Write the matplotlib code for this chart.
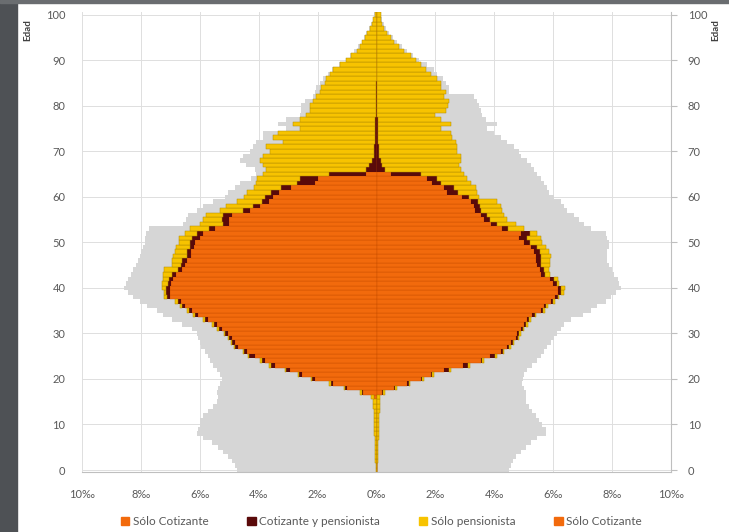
import matplotlib
matplotlib.use('Agg')
import matplotlib.pyplot as plt
from matplotlib.patches import Rectangle, Patch

plt.rcParams['font.family'] = ['Lato', 'DejaVu Sans']

# edad 0..100, valores en tanto por mil
ages = list(range(101))

# lado izquierdo
left_total = [4.75, 4.81, 4.92, 5.03, 5.2, 5.37, 5.6, 5.89, 6.1, 6.06,
              6.0, 6.0, 5.89, 5.72, 5.55, 5.43, 5.37, 5.43, 5.37, 5.32,
              5.26, 5.32, 5.43, 5.55, 5.66, 5.72, 5.83, 5.95, 6.0, 6.06,
              6.1, 6.28, 6.6, 6.95, 7.24, 7.46, 7.8, 8.04, 8.27, 8.44,
              8.58, 8.52, 8.44, 8.35, 8.27, 8.16, 8.1, 8.04, 8.0, 7.93,
              7.87, 7.87, 7.82, 7.73, 6.57, 6.46, 6.4, 6.1, 5.89, 5.55,
              5.15, 5.04, 4.81, 4.64, 4.25, 4.08, 4.13, 4.42, 4.64, 4.53,
              4.3, 4.19, 4.08, 3.85, 3.85, 3.06, 3.34, 3.06, 2.6, 2.55,
              2.55, 2.43, 2.15, 2.1, 2.04, 1.93, 1.82, 1.65, 1.5, 1.28,
              1.05, 0.9, 0.75, 0.62, 0.5, 0.42, 0.35, 0.25, 0.18, 0.12,
              0.08]
left_cot = [0, 0, 0, 0, 0, 0, 0, 0, 0, 0,
            0, 0, 0, 0, 0, 0, 0.1, 0.45, 1.01, 1.47,
            2.09, 2.54, 2.94, 3.45, 3.79, 4.13, 4.41, 4.7, 4.81, 4.92,
            5.03, 5.26, 5.43, 5.72, 6.06, 6.28, 6.5, 6.63, 7.0, 7.02,
            7.02, 6.97, 6.9, 6.8, 6.6, 6.5, 6.45, 6.3, 6.3, 6.2,
            6.15, 6.0, 5.9, 5.5, 5.0, 5.0, 4.9, 4.3, 3.95, 3.65,
            3.5, 3.3, 2.9, 2.1, 2.0, 0.35, 0, 0, 0, 0,
            0, 0, 0, 0, 0, 0, 0, 0, 0, 0,
            0, 0, 0, 0, 0, 0, 0, 0, 0, 0,
            0, 0, 0, 0, 0, 0, 0, 0, 0, 0,
            0]
left_both = [0, 0, 0, 0, 0, 0, 0, 0, 0, 0,
             0, 0, 0, 0, 0, 0, 0, 0.05, 0.06, 0.08,
             0.1, 0.08, 0.12, 0.15, 0.1, 0.2, 0.1, 0.1, 0.1, 0.1,
             0.1, 0.1, 0.1, 0.1, 0.1, 0.1, 0.1, 0.12, 0.12, 0.12,
             0.12, 0.12, 0.15, 0.15, 0.15, 0.15, 0.15, 0.15, 0.15, 0.15,
             0.2, 0.25, 0.2, 0.2, 0.2, 0.25, 0.3, 0.25, 0.25, 0.25,
             0.3, 0.3, 0.35, 0.6, 0.6, 1.25, 0.35, 0.25, 0.15, 0.1,
             0.08, 0.07, 0.06, 0.05, 0.05, 0.04, 0.04, 0.04, 0.03, 0.03,
             0.03, 0.03, 0.02, 0.02, 0.02, 0.01, 0, 0, 0, 0,
             0, 0, 0, 0, 0, 0, 0, 0, 0, 0,
             0]
left_pens = [0.03, 0.03, 0.04, 0.04, 0.05, 0.05, 0.06, 0.06, 0.07, 0.08,
             0.08, 0.09, 0.1, 0.1, 0.12, 0.12, 0.1, 0.05, 0.05, 0.05,
             0.05, 0.05, 0.04, 0.05, 0.06, 0.05, 0.04, 0.05, 0.04, 0.04,
             0.05, 0.04, 0.05, 0.06, 0.06, 0.06, 0.07, 0.1, 0.08, 0.08,
             0.16, 0.21, 0.2, 0.3, 0.45, 0.3, 0.35, 0.45, 0.4, 0.45,
             0.35, 0.45, 0.4, 0.65, 0.8, 0.65, 0.6, 0.75, 0.9, 0.85,
             0.7, 0.8, 0.9, 1.4, 1.45, 2.25, 3.39, 3.6, 3.81, 3.75,
             3.54, 3.67, 3.11, 3.46, 3.29, 2.56, 2.79, 2.56, 2.35, 2.24,
             2.24, 2.12, 2.02, 1.91, 1.85, 1.75, 1.7, 1.58, 1.47, 1.25,
             1.02, 0.85, 0.68, 0.56, 0.48, 0.4, 0.34, 0.23, 0.17, 0.11,
             0.06]

# lado derecho
right_total = [4.5, 4.56, 4.62, 4.73, 4.9, 5.07, 5.24, 5.46, 5.75, 5.75,
               5.63, 5.52, 5.41, 5.29, 5.18, 5.07, 5.07, 5.07, 5.01, 4.95,
               4.99, 5.01, 5.12, 5.29, 5.46, 5.58, 5.69, 5.8, 5.92, 6.03,
               6.14, 6.26, 6.37, 6.6, 7.0, 7.28, 7.5, 7.79, 7.96, 8.13,
               8.3, 8.24, 8.19, 8.07, 8.0, 7.9, 7.84, 7.84, 7.84, 7.9,
               7.9, 7.84, 7.79, 7.28, 7.05, 6.88, 6.71, 6.48, 6.37, 6.26,
               6.03, 5.86, 5.8, 5.69, 5.58, 5.46, 5.35, 5.24, 5.12, 4.9,
               4.84, 4.67, 4.44, 4.22, 3.99, 3.76, 4.1, 3.71, 3.59, 3.54,
               3.48, 3.42, 3.31, 2.47, 2.47, 2.35, 2.24, 2.06, 1.95, 1.72,
               1.44, 1.25, 1.05, 0.85, 0.68, 0.55, 0.42, 0.32, 0.24, 0.18,
               0.15]
right_cot = [0, 0, 0, 0, 0, 0, 0, 0, 0, 0,
             0, 0, 0, 0, 0, 0, 0.02, 0.2, 0.59, 1.04,
             1.5, 1.84, 2.3, 2.95, 3.54, 3.85, 4.22, 4.44, 4.56, 4.73,
             4.78, 4.9, 5.0, 5.12, 5.29, 5.58, 5.69, 5.92, 6.05, 6.15,
             6.15, 6.0, 5.9, 5.6, 5.55, 5.45, 5.4, 5.4, 5.35, 5.25,
             5.0, 4.85, 4.9, 4.25, 3.9, 3.65, 3.55, 3.35, 3.3, 3.2,
             2.9, 2.4, 2.3, 1.9, 1.7, 0.5, 0, 0, 0, 0,
             0, 0, 0, 0, 0, 0, 0, 0, 0, 0,
             0, 0, 0, 0, 0, 0, 0, 0, 0, 0,
             0, 0, 0, 0, 0, 0, 0, 0, 0, 0,
             0]
right_both = [0, 0, 0, 0, 0, 0, 0, 0, 0, 0,
              0, 0, 0, 0, 0, 0, 0, 0.03, 0.04, 0.05,
              0.05, 0.05, 0.17, 0.17, 0.05, 0.17, 0.06, 0.06, 0.06, 0.06,
              0.06, 0.06, 0.07, 0.07, 0.08, 0.08, 0.08, 0.08, 0.1, 0.1,
              0.1, 0.12, 0.12, 0.12, 0.12, 0.15, 0.2, 0.2, 0.2, 0.2,
              0.2, 0.25, 0.3, 0.2, 0.2, 0.2, 0.2, 0.2, 0.2, 0.25,
              0.25, 0.35, 0.34, 0.3, 0.35, 1.0, 0.3, 0.2, 0.15, 0.1,
              0.08, 0.07, 0.06, 0.05, 0.05, 0.04, 0.04, 0.04, 0.03, 0.03,
              0.03, 0.03, 0.02, 0.02, 0.02, 0.01, 0, 0, 0, 0,
              0, 0, 0, 0, 0, 0, 0, 0, 0, 0,
              0]
right_pens = [0.03, 0.03, 0.04, 0.04, 0.05, 0.05, 0.06, 0.07, 0.08, 0.08,
              0.09, 0.1, 0.1, 0.11, 0.12, 0.12, 0.1, 0.05, 0.05, 0.04,
              0.05, 0.06, 0.05, 0.06, 0.06, 0.08, 0.05, 0.05, 0.05, 0.05,
              0.06, 0.06, 0.06, 0.06, 0.06, 0.06, 0.06, 0.05, 0.05, 0.1,
              0.15, 0.08, 0.13, 0.18, 0.18, 0.3, 0.3, 0.32, 0.31, 0.3,
              0.43, 0.48, 0.26, 0.56, 0.63, 0.59, 0.58, 0.72, 0.72, 0.65,
              0.33, 0.67, 0.73, 1.0, 1.03, 1.47, 2.56, 2.6, 2.71, 2.76,
              2.66, 2.67, 2.63, 2.52, 2.47, 2.14, 2.48, 2.14, 1.97, 2.32,
              2.38, 2.44, 2.28, 2.33, 2.16, 2.17, 2.06, 1.84, 1.67, 1.5,
              1.33, 1.16, 0.93, 0.76, 0.59, 0.48, 0.36, 0.27, 0.19, 0.16,
              0.14]

x_ticks = [-10, -8, -6, -4, -2, 0, 2, 4, 6, 8, 10]
x_labels = ['10‰', '8‰', '6‰', '4‰', '2‰', '0‰', '2‰', '4‰', '6‰', '8‰', '10‰']
y_ticks = [0, 10, 20, 30, 40, 50, 60, 70, 80, 90, 100]

c_gray = '#d6d6d6'
c_cot = '#f26a0c'
c_both = '#5a0a0a'
c_pens = '#f7c300'
txt = '#595959'

fig = plt.figure(figsize=(7.29, 5.32), dpi=100)
ax = fig.add_axes([0.1125, 0.1122, 0.808, 0.8645])

neg = lambda v: [-a for a in v]

# poblacion total de fondo
ax.barh(ages, neg(left_total), height=1.0, color=c_gray, linewidth=0)
ax.barh(ages, right_total, height=1.0, color=c_gray, linewidth=0)

# lado izquierdo apilado
ax.barh(ages, neg(left_cot), height=1.0, color=c_cot, edgecolor='#c84f00', linewidth=0.3)
lb = [-a for a in left_cot]
ax.barh(ages, neg(left_both), left=lb, height=1.0, color=c_both, linewidth=0)
lb2 = [-(a + b) for a, b in zip(left_cot, left_both)]
ax.barh(ages, neg(left_pens), left=lb2, height=1.0, color=c_pens, edgecolor='#b08a00', linewidth=0.35)

# lado derecho apilado
ax.barh(ages, right_cot, height=1.0, color=c_cot, edgecolor='#c84f00', linewidth=0.3)
ax.barh(ages, right_both, left=right_cot, height=1.0, color=c_both, linewidth=0)
rb2 = [a + b for a, b in zip(right_cot, right_both)]
ax.barh(ages, right_pens, left=rb2, height=1.0, color=c_pens, edgecolor='#b08a00', linewidth=0.35)

ax.set_xlim(-10, 10)
ax.set_ylim(-0.5, 100.5)
ax.set_xticks(x_ticks)
ax.set_xticklabels(x_labels)
ax.set_yticks(y_ticks)
ax.set_axisbelow(True)
ax.grid(True, color='#dedede', linewidth=0.7)

for s in ['top', 'left']:
    ax.spines[s].set_visible(False)
ax.spines['bottom'].set_color('#bfbfbf')
ax.spines['right'].set_color('#bfbfbf')
ax.tick_params(axis='x', length=0, pad=12, labelsize=8, labelcolor=txt)
ax.tick_params(axis='y', left=False, right=True, labelleft=True, labelright=True,
               direction='out', length=4, color='#bfbfbf', pad=8, labelsize=8, labelcolor=txt)

fig.text(28 / 729, 1 - 30 / 532, 'Edad', rotation=90, ha='center', va='center',
         fontsize=7, fontweight='bold', color='#404040')
fig.text(716 / 729, 1 - 30 / 532, 'Edad', rotation=90, ha='center', va='center',
         fontsize=7, fontweight='bold', color='#404040')

handles = [Patch(color=c_cot), Patch(color=c_both), Patch(color=c_pens), Patch(color=c_cot)]
labels = ['Sólo Cotizante', 'Cotizante y pensionista', 'Sólo pensionista', 'Sólo Cotizante']
fig.legend(handles, labels, loc='center', bbox_to_anchor=(0.5233, 1 - 521.7 / 532), ncol=4,
           frameon=False, handlelength=0.7, handleheight=0.7, handletextpad=0.3,
           columnspacing=3.3, fontsize=8.5, labelcolor=txt)

# marco oscuro de la captura
fig.patches.append(Rectangle((0, 0), 17 / 729, 1, transform=fig.transFigure,
                             color='#4e5155', zorder=0))
fig.patches.append(Rectangle((0, 1 - 3 / 532), 1, 3 / 532, transform=fig.transFigure,
                             color='#6a6d70', zorder=0))

fig.savefig('out.png', dpi=100)
